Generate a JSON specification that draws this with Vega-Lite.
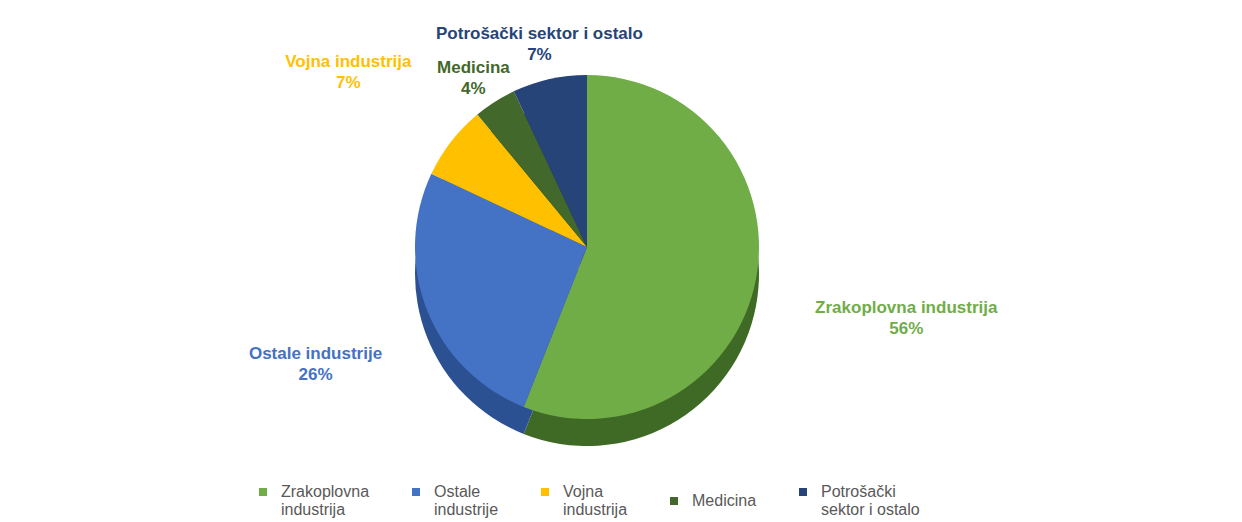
{
  "$schema": "https://vega.github.io/schema/vega-lite/v6.json",
  "width": 1242,
  "height": 522,
  "autosize": {"type": "fit", "contains": "padding"},
  "padding": {"top": 38, "left": 5, "right": 73, "bottom": 4},
  "background": "white",
  "config": {
    "view": {"stroke": null},
    "legend": {"layout": {"bottom": {"anchor": "middle"}}}
  },
  "data": {
    "values": [
      {"category": "Zrakoplovna industrija", "value": 56, "order": 1, "label": "Zrakoplovna industrija\n56%"},
      {"category": "Ostale industrije", "value": 26, "order": 2, "label": "Ostale industrije\n26%"},
      {"category": "Vojna industrija", "value": 7, "order": 3, "label": "Vojna industrija\n7%"},
      {"category": "Medicina", "value": 4, "order": 4, "label": "Medicina\n4%"},
      {"category": "Potrošački sektor i ostalo", "value": 7, "order": 5, "label": "Potrošački sektor i ostalo\n7%"}
    ]
  },
  "encoding": {
    "theta": {"field": "value", "type": "quantitative", "stack": true},
    "order": {"field": "order", "type": "quantitative"}
  },
  "layer": [
    {
      "mark": {"type": "arc", "outerRadius": 172, "yOffset": 27},
      "encoding": {
        "color": {
          "condition": [
            {"test": "datum.category == 'Ostale industrije'", "value": "#2c5192"},
            {"test": "datum.category == 'Vojna industrija'", "value": "#b88a00"},
            {"test": "datum.category == 'Medicina'", "value": "#2a461b"},
            {"test": "datum.category == 'Potrošački sektor i ostalo'", "value": "#172c50"}
          ],
          "value": "#3f6a26"
        }
      }
    },
    {
      "mark": {"type": "arc", "outerRadius": 172},
      "encoding": {
        "color": {
          "field": "category", "type": "nominal",
          "scale": {
            "domain": ["Zrakoplovna industrija", "Ostale industrije", "Vojna industrija", "Medicina", "Potrošački sektor i ostalo"],
            "range": ["#70AD47", "#4472C4", "#FFC000", "#43682B", "#264478"]
          },
          "legend": {
            "title": null,
            "orient": "bottom",
            "direction": "horizontal",
            "symbolType": "square",
            "symbolSize": 64,
            "labelFont": "Liberation Sans",
            "labelFontSize": 16,
            "labelColor": "#595959",
            "labelLimit": 300,
            "columnPadding": 38,
            "labelOffset": 10,
            "offset": 28,
            "labelExpr": "datum.label == 'Potrošački sektor i ostalo' ? ['Potrošački', 'sektor i ostalo'] : split(datum.label, ' ')"
          }
        }
      }
    },
    {
      "mark": {
        "type": "text",
        "font": "Liberation Sans",
        "fontWeight": "bold",
        "fontSize": 17,
        "lineHeight": 21,
        "lineBreak": "\n",
        "baseline": "middle",
        "align": "center",
        "radius": {"expr": "datum.category == 'Zrakoplovna industrija' ? 325 : datum.category == 'Ostale industrije' ? 292 : datum.category == 'Vojna industrija' ? 302 : datum.category == 'Medicina' ? 212 : 218"}
      },
      "encoding": {
        "text": {"field": "label", "type": "nominal"},
        "color": {
          "field": "category", "type": "nominal",
          "scale": {
            "domain": ["Zrakoplovna industrija", "Ostale industrije", "Vojna industrija", "Medicina", "Potrošački sektor i ostalo"],
            "range": ["#70AD47", "#4472C4", "#FFC000", "#43682B", "#264478"]
          }
        }
      }
    }
  ]
}
